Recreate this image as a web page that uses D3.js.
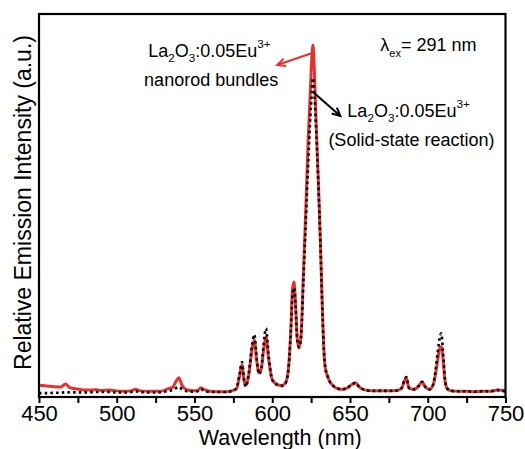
<!DOCTYPE html>
<html>
<head>
<meta charset="utf-8">
<script src="https://cdn.jsdelivr.net/npm/d3@7"></script>
<style>
  html, body { margin: 0; padding: 0; background: #fff; }
  svg { display: block; }
  text { font-family: "Liberation Sans", Arial, sans-serif; fill: #000; }
</style>
</head>
<body>
<script>
// ---------- data ----------
const wavelengths = [450, 455, 460, 464, 467, 470, 475, 480, 487, 490, 495, 500, 505, 509, 512, 515, 520, 525, 530, 533, 536, 538, 540, 542, 545, 550, 552, 554, 556, 560, 565, 570, 574, 577, 579, 580.5, 582, 583, 585, 587, 588.5, 590, 591.5, 593, 594.5, 596, 597.5, 600, 603, 606, 608, 610, 612, 613, 614, 615, 616, 617.2, 618.5, 620, 621.5, 623, 624.5, 625.5, 626.2, 627, 628, 629.5, 631, 632, 633, 634, 635.5, 637, 639, 642, 645, 648, 651, 653.5, 656, 660, 665, 670, 675, 680, 683, 685, 686.2, 688, 691, 694, 696.3, 698.5, 701, 703.5, 705, 706.5, 707.5, 708.7, 709.8, 711, 712.5, 715, 720, 725, 730, 735, 740, 745, 750];

const nanorodIntensity = [3.1, 2.9, 2.7, 2.6, 3.4, 2.4, 2.1, 1.8, 1.9, 1.7, 1.8, 1.6, 1.5, 1.6, 2.0, 1.6, 1.5, 1.5, 1.6, 2.2, 2.5, 4.0, 5.0, 3.0, 1.9, 1.6, 1.7, 2.4, 2.0, 1.5, 1.4, 1.4, 1.6, 2.2, 5.5, 8.4, 4.0, 3.0, 6.0, 12.5, 14.9, 9.5, 6.3, 7.5, 12.5, 15.7, 10.5, 4.5, 3.3, 3.0, 3.4, 6.0, 18.0, 28.0, 30.0, 24, 15.5, 12.8, 16, 32, 48, 66, 80, 89, 91.9, 86, 74, 58, 40, 26, 14, 8, 5.5, 4.0, 3.0, 2.2, 2.0, 2.3, 3.2, 3.7, 2.6, 1.8, 1.6, 1.6, 1.6, 1.7, 2.2, 4.2, 5.0, 2.3, 2.0, 2.8, 3.9, 2.6, 2.0, 3.2, 6.0, 10.0, 12.5, 13.1, 10, 4.5, 2.2, 1.6, 1.5, 1.5, 1.4, 1.5, 1.5, 1.8, 1.5];

const solidStateIntensity = [1.0, 1.0, 1.1, 1.1, 1.3, 1.2, 1.2, 1.2, 1.3, 1.3, 1.3, 1.2, 1.2, 1.3, 1.5, 1.3, 1.2, 1.2, 1.3, 1.6, 1.8, 2.3, 2.6, 2.0, 1.5, 1.4, 1.5, 2.1, 1.7, 1.3, 1.3, 1.3, 1.5, 2.3, 6.0, 9.1, 4.2, 2.7, 6.5, 13.5, 16.3, 10, 6.0, 7.5, 14, 17.9, 11.5, 4.5, 3.2, 2.9, 3.3, 5.8, 17.5, 26.5, 28.5, 24, 15.5, 13, 15.5, 30, 45, 60, 73, 80, 83.3, 80, 72, 57, 40, 26, 14, 8, 5.5, 4.0, 3.0, 2.2, 2.0, 2.3, 3.2, 3.7, 2.6, 1.8, 1.6, 1.6, 1.6, 1.7, 2.2, 4.4, 5.2, 2.3, 2.0, 2.8, 4.0, 2.6, 2.0, 3.3, 7.0, 12.0, 15.0, 16.6, 12, 5, 2.2, 1.6, 1.5, 1.5, 1.4, 1.5, 1.5, 1.8, 1.5];

const xTickValues = [450, 500, 550, 600, 650, 700, 750];
const xMinorTickValues = [475, 525, 575, 625, 675, 725];
const xLabel = "Wavelength (nm)";
const yLabel = "Relative Emission Intensity (a.u.)";

// annotation pieces: [text, kind]  kind: n normal, sub, sup
const nanorodLabel1 = [["La", "n"], ["2", "sub"], ["O", "n"], ["3", "sub"], [":0.05Eu", "n"], ["3+", "sup"]];
const nanorodLabel2 = "nanorod bundles";
const solidLabel1 = [["La", "n"], ["2", "sub"], ["O", "n"], ["3", "sub"], [":0.05Eu", "n"], ["3+", "sup"]];
const solidLabel2 = "(Solid-state reaction)";
const excLabel = [["λ", "n"], ["ex", "sub"], ["= 291 nm", "n"]];

// annotation anchor positions in data units [wavelength, intensity]
const nanorodLabelPos = [[520.2, 88.8], [517.6, 81.2]];
const solidLabelPos = [[648.3, 73.1], [636.1, 65.5]];
const excLabelPos = [669.5, 90.3];
const nanorodArrow = [[625.8, 89.8], [603.2, 86.7]];
const solidArrow = [[626.4, 79.6], [643.8, 73.4]];

// ---------- layout ----------
const W = 525, H = 449;
const margin = { left: 39, right: 19.5, top: 14, bottom: 52 };
const redColor = "#e8312f";

const svg = d3.select("body").append("svg").attr("width", W).attr("height", H);

const x = d3.scaleLinear().domain([450, 750]).range([margin.left, W - margin.right]);
const y = d3.scaleLinear().domain([0, 100]).range([H - margin.bottom, margin.top]);

const clipId = "plotclip";
svg.append("clipPath").attr("id", clipId).append("rect")
  .attr("x", margin.left).attr("y", margin.top)
  .attr("width", x.range()[1] - margin.left).attr("height", y.range()[0] - margin.top);

const line = d3.line().x(d => x(d[0])).y(d => y(d[1])).curve(d3.curveMonotoneX);
const redData = wavelengths.map((w, i) => [w, nanorodIntensity[i]]);
const blackData = wavelengths.map((w, i) => [w, solidStateIntensity[i]]);

const g = svg.append("g").attr("clip-path", `url(#${clipId})`);
g.append("path").datum(redData).attr("d", line)
  .attr("fill", "none").attr("stroke", redColor).attr("stroke-width", 3).attr("stroke-linejoin", "round");
g.append("path").datum(blackData).attr("d", line)
  .attr("fill", "none").attr("stroke", "#000").attr("stroke-width", 2.6).attr("stroke-dasharray", "2.5,3.2");

// ---------- axes ----------
const xAxis = d3.axisBottom(x).tickValues(xTickValues).tickSize(6).tickPadding(2).tickFormat(d3.format("d"));
const xAxisMinor = d3.axisBottom(x).tickValues(xMinorTickValues).tickSize(6).tickFormat("");
const yb = y.range()[0];

const gx = svg.append("g").attr("transform", `translate(0,${yb})`).call(xAxis);
gx.select(".domain").remove();
gx.selectAll(".tick line").attr("stroke", "#000").attr("stroke-width", 2);
gx.selectAll(".tick text").attr("font-size", 22).attr("font-family", "Liberation Sans, Arial, sans-serif").attr("fill", "#000");

const gxm = svg.append("g").attr("transform", `translate(0,${yb})`).call(xAxisMinor);
gxm.select(".domain").remove();
gxm.selectAll(".tick line").attr("stroke", "#000").attr("stroke-width", 2);

// frame
svg.append("rect")
  .attr("x", margin.left).attr("y", margin.top)
  .attr("width", x.range()[1] - margin.left).attr("height", yb - margin.top)
  .attr("fill", "none").attr("stroke", "#000").attr("stroke-width", 2.2);

// axis labels
svg.append("text")
  .attr("x", (x.range()[0] + x.range()[1]) / 2 + 8).attr("y", 444.8)
  .attr("text-anchor", "middle").attr("font-size", 21.5).text(xLabel);

svg.append("text")
  .attr("transform", `translate(31,${(margin.top + yb) / 2 - 3}) rotate(-90)`)
  .attr("text-anchor", "middle").attr("font-size", 23).text(yLabel);

// ---------- annotations ----------
function richText(pieces, pos, size) {
  const t = svg.append("text").attr("x", x(pos[0])).attr("y", y(pos[1])).attr("font-size", size);
  let cur = 0;
  pieces.forEach(([txt, kind]) => {
    let target = 0, fs = size;
    if (kind === "sub") { target = size * 0.3; fs = size * 0.65; }
    if (kind === "sup") { target = -size * 0.5; fs = size * 0.65; }
    t.append("tspan").attr("dy", target - cur).attr("font-size", fs).text(txt);
    cur = target;
  });
  return t;
}

richText(nanorodLabel1, nanorodLabelPos[0], 18);
svg.append("text").attr("x", x(nanorodLabelPos[1][0])).attr("y", y(nanorodLabelPos[1][1]))
  .attr("font-size", 18).text(nanorodLabel2);
richText(solidLabel1, solidLabelPos[0], 18);
svg.append("text").attr("x", x(solidLabelPos[1][0])).attr("y", y(solidLabelPos[1][1]))
  .attr("font-size", 18).text(solidLabel2);

// λex label with small subscript
(function () {
  const size = 18;
  const t = svg.append("text").attr("x", x(excLabelPos[0])).attr("y", y(excLabelPos[1])).attr("font-size", size);
  t.append("tspan").text(excLabel[0][0]);
  t.append("tspan").attr("dy", 6).attr("font-size", 11).text(excLabel[1][0]);
  t.append("tspan").attr("dy", -6).text(excLabel[2][0]);
})();

function arrow(pts, color) {
  const [p0, p1] = pts.map(p => [x(p[0]), y(p[1])]);
  svg.append("line").attr("x1", p0[0]).attr("y1", p0[1]).attr("x2", p1[0]).attr("y2", p1[1])
    .attr("stroke", color).attr("stroke-width", 2);
  const ang = Math.atan2(p1[1] - p0[1], p1[0] - p0[0]);
  const L = 9, spread = 0.45;
  const a1 = [p1[0] - L * Math.cos(ang - spread), p1[1] - L * Math.sin(ang - spread)];
  const a2 = [p1[0] - L * Math.cos(ang + spread), p1[1] - L * Math.sin(ang + spread)];
  svg.append("path").attr("d", `M${a1[0]},${a1[1]}L${p1[0]},${p1[1]}L${a2[0]},${a2[1]}`)
    .attr("fill", "none").attr("stroke", color).attr("stroke-width", 2).attr("stroke-linejoin", "miter");
}
arrow(nanorodArrow, redColor);
arrow(solidArrow, "#000");
</script>
</body>
</html>
